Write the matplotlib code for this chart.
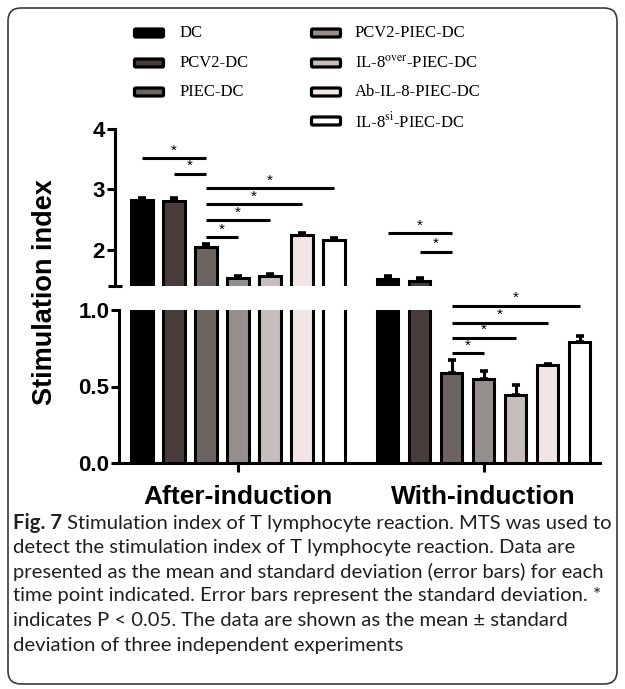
import matplotlib
matplotlib.use('Agg')
import matplotlib.pyplot as plt
from matplotlib.patches import FancyBboxPatch

plt.rcParams['mathtext.fontset'] = 'stix'

# ---------------- data ----------------
groups = ['After-induction', 'With-induction']
series = ['DC', 'PCV2-DC', 'PIEC-DC', 'PCV2-PIEC-DC',
          'IL-8$^{\\mathrm{over}}$-PIEC-DC', 'Ab-IL-8-PIEC-DC',
          'IL-8$^{\\mathrm{si}}$-PIEC-DC']
colors = ['#000000', '#473c3a', '#6d6361', '#968e8c', '#c6bdbc', '#f1e6e5', '#ffffff']
after_vals = [2.83, 2.81, 2.05, 1.54, 1.57, 2.24, 2.16]
after_err = [0.03, 0.05, 0.05, 0.03, 0.03, 0.04, 0.04]
with_vals = [1.52, 1.49, 0.59, 0.55, 0.445, 0.64, 0.79]
with_err = [0.04, 0.05, 0.08, 0.05, 0.065, 0.01, 0.04]
# significance brackets: (bar i, bar j, height)
sig_after = [(0, 2, 3.52), (1, 2, 3.26), (2, 6, 3.02), (2, 5, 2.75), (2, 4, 2.49), (2, 3, 2.21)]
sig_with = [(0, 2, 2.27), (1, 2, 1.97), (2, 6, 1.027), (2, 5, 0.917), (2, 4, 0.82), (2, 3, 0.717)]
yticks_hi = [2, 3, 4]
yticks_lo = [0.0, 0.5, 1.0]
caption_bold = 'Fig. 7'
caption_lines = [
    " Stimulation index of T lymphocyte reaction. MTS was used to",
    "detect the stimulation index of T lymphocyte reaction. Data are",
    "presented as the mean and standard deviation (error bars) for each",
    "time point indicated. Error bars represent the standard deviation. *",
    "indicates P < 0.05. The data are shown as the mean \u00b1 standard",
    "deviation of three independent experiments",
]

# ---------------- layout ----------------
W, H = 625, 689
fig = plt.figure(figsize=(W / 100, H / 100), dpi=100)


def rect(l, t, r, b):
    return [l / W, 1 - b / H, (r - l) / W, (b - t) / H]


ax_lo = fig.add_axes(rect(119, 310, 600, 463))
ax_hi = fig.add_axes(rect(119, 129, 600, 286))

group_offset = [0.0, 7.67]
bw = 0.66
lw = 2.2
SANS = 'Liberation Sans'

for ax in (ax_lo, ax_hi):
    for s in range(len(series)):
        xs = [group_offset[0] + s, group_offset[1] + s]
        hs = [after_vals[s], with_vals[s]]
        es = [after_err[s], with_err[s]]
        ax.errorbar(xs, hs, yerr=[[0, 0], es], fmt='none', ecolor='black',
                    elinewidth=2.2, capsize=2.6, capthick=2.6, zorder=2)
        ax.bar(xs, hs, width=bw, color=colors[s], edgecolor='black',
               linewidth=lw, zorder=3)
    ax.set_xlim(-0.72, 14.31)
    for sp in ('top', 'right'):
        ax.spines[sp].set_visible(False)
    ax.spines['left'].set_linewidth(lw)
    ax.spines['bottom'].set_linewidth(lw)

ax_lo.set_ylim(0, 1.0)
ax_hi.set_ylim(1.4, 4.0)
ax_hi.spines['bottom'].set_visible(False)
ax_hi.spines['left'].set_position(('outward', 3))
ax_hi.set_xticks([])

ax_hi.set_yticks(yticks_hi)
ax_hi.set_yticklabels([str(v) for v in yticks_hi])
ax_hi.set_yticks([1.4], minor=True)
ax_lo.set_yticks(yticks_lo)
ax_lo.set_yticklabels(['%.1f' % v for v in yticks_lo])
ax_lo.set_yticks([1.0], minor=True)

for ax in (ax_lo, ax_hi):
    ax.tick_params(axis='y', which='major', direction='out', length=5.5, width=lw,
                   pad=1.5, labelsize=16)
    ax.tick_params(axis='y', which='minor', direction='inout', length=10, width=lw)
    for t in ax.get_yticklabels():
        t.set_fontfamily(SANS)
        t.set_fontweight('bold')

ax_lo.set_xticks([group_offset[0] + 3, group_offset[1] + 3])
ax_lo.set_xticklabels(groups)
ax_lo.tick_params(axis='x', direction='out', length=6.5, width=lw, pad=9, labelsize=19)
for t in ax_lo.get_xticklabels():
    t.set_fontfamily(SANS)
    t.set_fontweight('bold')


def bracket(ax, x1, x2, h):
    ax.plot([x1, x2], [h, h], color='black', lw=2.2, clip_on=False, zorder=5,
            solid_capstyle='butt')
    ax.annotate('*', xy=((x1 + x2) / 2, h), xytext=(0, 0.5), textcoords='offset points',
                ha='center', va='bottom', fontsize=11, fontfamily=SANS,
                annotation_clip=False)


for i, j, h in sig_after:
    bracket(ax_hi, group_offset[0] + i, group_offset[0] + j, h)
for i, j, h in sig_with:
    ax = ax_hi if h >= 1.4 else ax_lo
    bracket(ax, group_offset[1] + i, group_offset[1] + j, h)

fig.text(45 / W, 1 - 292 / H, 'Stimulation index', rotation=90, ha='center', va='center',
         fontsize=19.5, fontweight='bold', fontfamily=SANS)

# ---------------- legend (manual) ----------------
inch = fig.dpi_scale_trans
leg_cols = [(133, 180, [0, 1, 2]), (310, 355, [3, 4, 5, 6])]
row_y = [33, 63, 92, 121]
for px, tx, idxs in leg_cols:
    for r, s in enumerate(idxs):
        cy = row_y[r]
        p = FancyBboxPatch(((px + 1.5) / 100, (H - cy - 4) / 100), 29 / 100, 8 / 100,
                           boxstyle='round,pad=0,rounding_size=0.012',
                           facecolor=colors[s], edgecolor='black', linewidth=2.3,
                           transform=inch)
        fig.add_artist(p)
        fig.text(tx / W, 1 - cy / H, series[s], ha='left', va='center', fontsize=12,
                 fontfamily='Liberation Serif')

# ---------------- frame ----------------
frame = FancyBboxPatch((8 / 100, (H - 684) / 100), 609 / 100, 676 / 100,
                       boxstyle='round,pad=0,rounding_size=0.13',
                       facecolor='none', edgecolor='#3a3a3a', linewidth=1.2,
                       transform=inch)
fig.add_artist(frame)

# ---------------- caption ----------------
cap_font = 'Lato'
cap_y = [523, 547, 572, 596, 620, 645]
cap_color = '#231f20'
fig.canvas.draw()
renderer = fig.canvas.get_renderer()
base = 12.0
tb = fig.text(0, 0, caption_bold, fontsize=base, fontweight='bold', fontfamily=cap_font)
tr = fig.text(0, 0, caption_lines[0], fontsize=base, fontfamily=cap_font)
wtot = tb.get_window_extent(renderer).width + tr.get_window_extent(renderer).width
tb.remove()
tr.remove()
cap_size = base * 598.0 / wtot

bold = fig.text(13 / W, 1 - cap_y[0] / H, caption_bold, ha='left', va='center',
                fontsize=cap_size, fontweight='bold', fontfamily=cap_font, color=cap_color)
bb = bold.get_window_extent(renderer)
fig.text(bb.x1 / W, 1 - cap_y[0] / H, caption_lines[0], ha='left', va='center',
         fontsize=cap_size, fontfamily=cap_font, color=cap_color)
for k in range(1, len(caption_lines)):
    fig.text(13 / W, 1 - cap_y[k] / H, caption_lines[k], ha='left', va='center',
             fontsize=cap_size, fontfamily=cap_font, color=cap_color)

fig.savefig('out.png', dpi=100)
